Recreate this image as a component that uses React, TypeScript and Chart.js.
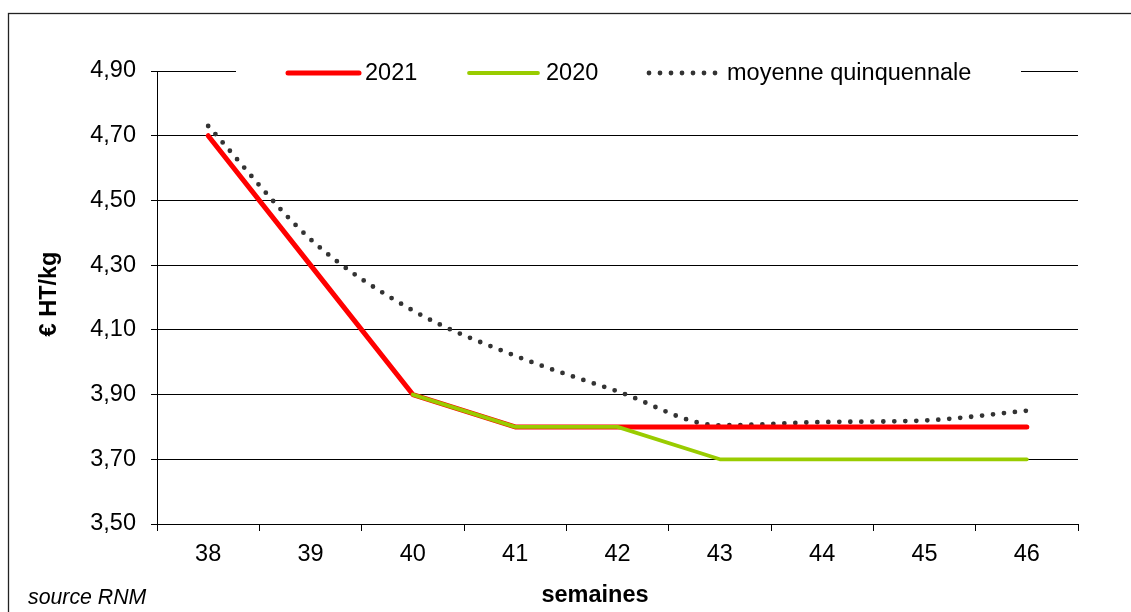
import React, { useEffect, useRef } from "react";
import { Chart, registerables } from "chart.js";

Chart.register(...registerables);

const weeks = ["38", "39", "40", "41", "42", "43", "44", "45", "46"];
const series2021 = [4.7, 4.3, 3.9, 3.8, 3.8, 3.8, 3.8, 3.8, 3.8];
const series2020 = [null, null, 3.9, 3.8, 3.8, 3.7, 3.7, 3.7, 3.7];
const seriesAvg = [4.73, 4.38, 4.16, 4.02, 3.91, 3.805, 3.815, 3.82, 3.85];
const seriesLabels = ["2021", "2020", "moyenne quinquennale"];
const yMin = 3.5;
const yMax = 4.9;
const yStep = 0.2;
const yTitle = "€ HT/kg";
const xTitle = "semaines";
const sourceText = "source RNM";

const FONT = "'Liberation Sans', Arial, sans-serif";
const FS = 23.5;

const framePlugin = {
  id: "frame",
  beforeDraw(chart: any) {
    const ctx = chart.ctx;
    ctx.save();
    ctx.fillStyle = "#ffffff";
    ctx.fillRect(0, 0, chart.width, chart.height);
    ctx.strokeStyle = "#222222";
    ctx.lineWidth = 1.3;
    ctx.strokeRect(8.5, 13.5, chart.width + 20, chart.height + 20);
    ctx.restore();
  },
  afterDraw(chart: any) {
    const ctx = chart.ctx;
    ctx.save();
    // axis titles
    ctx.fillStyle = "#000";
    ctx.font = `bold ${FS}px ${FONT}`;
    ctx.textAlign = "center";
    ctx.textBaseline = "middle";
    ctx.fillText(xTitle, 595, 596);
    ctx.save();
    ctx.translate(50, 294);
    ctx.rotate(-Math.PI / 2);
    ctx.fillText(yTitle, 0, 0);
    ctx.restore();
    ctx.font = `italic 21.3px ${FONT}`;
    ctx.textAlign = "left";
    ctx.fillText(sourceText, 28, 598);

    // legend
    ctx.fillStyle = "#ffffff";
    ctx.fillRect(236, 57, 1021 - 236, 31);
    const items = [
      { x1: 288, x2: 359, tx: 365 },
      { x1: 469, x2: 538, tx: 546 },
      { x1: 649, x2: 720, tx: 727 },
    ];
    const ly = 73;
    chart.data.datasets.forEach((ds: any, i: number) => {
      const it = items[i];
      ctx.save();
      ctx.strokeStyle = ds.borderColor;
      ctx.lineWidth = ds.borderWidth;
      ctx.lineCap = "round";
      if (ds.borderDash && ds.borderDash.length) ctx.setLineDash(ds.borderDash);
      ctx.beginPath();
      ctx.moveTo(it.x1, ly);
      ctx.lineTo(it.x2, ly);
      ctx.stroke();
      ctx.restore();
      ctx.fillStyle = "#000";
      ctx.font = `${FS}px ${FONT}`;
      ctx.textAlign = "left";
      ctx.textBaseline = "middle";
      ctx.fillText(ds.label, it.tx, ly + 1);
    });
    ctx.restore();
  },
};

export default function App() {
  const ref = useRef<HTMLCanvasElement | null>(null);
  useEffect(() => {
    if (!ref.current) return;
    const chart = new Chart(ref.current, {
      type: "line",
      data: {
        labels: weeks,
        datasets: [
          {
            label: seriesLabels[0],
            data: series2021,
            borderColor: "#ff0000",
            borderWidth: 5,
            borderCapStyle: "round",
            borderJoinStyle: "round",
            pointRadius: 0,
            tension: 0,
            order: 1,
          },
          {
            label: seriesLabels[1],
            data: series2020,
            borderColor: "#99cc00",
            borderWidth: 3.8,
            borderCapStyle: "round",
            borderJoinStyle: "round",
            pointRadius: 0,
            tension: 0,
            order: 0,
          },
          {
            label: seriesLabels[2],
            data: seriesAvg,
            borderColor: "#333333",
            borderWidth: 4.8,
            borderDash: [0, 11],
            borderCapStyle: "round",
            pointRadius: 0,
            cubicInterpolationMode: "monotone",
            order: 2,
          },
        ],
      },
      options: {
        animation: false,
        responsive: false,
        devicePixelRatio: 1,
        layout: { padding: { left: 0, top: 71, right: 53, bottom: 0 } },
        plugins: {
          legend: { display: false },
          tooltip: { enabled: false },
          title: { display: false },
        },
        scales: {
          x: {
            type: "category",
            offset: true,
            grid: {
              display: true,
              drawOnChartArea: false,
              offset: true,
              tickLength: 7,
              color: "#000",
            },
            border: { display: true, color: "#000", width: 1 },
            ticks: {
              color: "#000",
              font: { family: FONT, size: FS },
              padding: 9,
              maxRotation: 0,
              autoSkip: false,
            },
            afterFit: (s: any) => {
              s.height = 612 - 524;
            },
          },
          y: {
            min: yMin,
            max: yMax,
            grid: { color: "#000", tickLength: 6 },
            border: { display: true, color: "#000", width: 1 },
            ticks: {
              stepSize: yStep,
              color: "#000",
              font: { family: FONT, size: FS },
              padding: 15,
              callback: (v: any) => Number(v).toFixed(2).replace(".", ","),
            },
            afterFit: (s: any) => {
              s.width = 157;
            },
          },
        },
      },
      plugins: [framePlugin],
    });
    return () => chart.destroy();
  }, []);
  return (
    <div style={{ position: "fixed", left: 0, top: 0, width: 1131, height: 612 }}>
      <canvas ref={ref} width={1131} height={612} style={{ width: 1131, height: 612, display: "block" }} />
    </div>
  );
}
